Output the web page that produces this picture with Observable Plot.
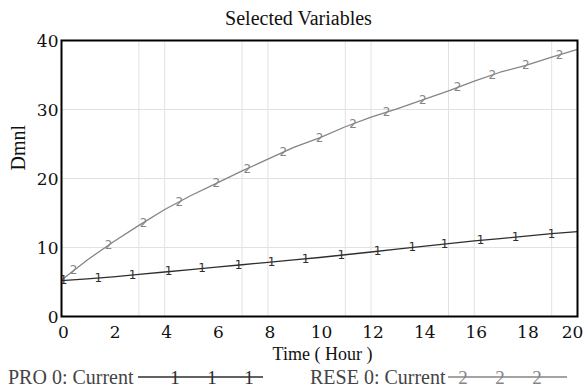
<!DOCTYPE html>
<html>
<head>
<meta charset="utf-8">
<script src="https://cdn.jsdelivr.net/npm/d3@7"></script>
<script src="https://cdn.jsdelivr.net/npm/@observablehq/plot@0.6"></script>
<style>
  body { margin: 0; background: #fff; width: 585px; height: 388px; overflow: hidden; }
  #title { height: 30px; font-family: "Liberation Serif", serif; font-size: 20px; line-height: 36px; text-align: center; padding-left: 12px; width: 573px; color: #111; white-space: nowrap; }
  #legend { position: relative; height: 22px; font-family: "Liberation Serif", serif; font-size: 20px; color: #444; }
  #legend span { position: absolute; top: 0; line-height: 22px; white-space: nowrap; }
  #legend svg { position: absolute; top: 0; overflow: visible; }
</style>
</head>
<body>
<div id="title"></div>
<div id="chart"></div>
<div id="legend"></div>
<script>
const chartTitle = "Selected Variables";
const xLabel = "Time ( Hour )";
const yLabel = "Dmnl";
const seriesNames = ["PRO 0: Current", "RESE 0: Current"];
const seriesMarks = ["1", "2"];
const seriesColors = ["#2e2e2e", "#858585"];

const timeHours = [0,1,2,3,4,5,6,7,8,9,10,11,12,13,14,15,16,17,18,19,20];
const proCurrent = [5.2,5.45,5.75,6.1,6.45,6.8,7.15,7.5,7.85,8.2,8.55,8.95,9.35,9.75,10.15,10.55,10.95,11.3,11.65,12.0,12.3];
const reseCurrent = [5.3,8.2,10.8,13.2,15.5,17.5,19.3,21.1,22.8,24.5,25.9,27.5,28.9,30.1,31.4,32.7,34.1,35.4,36.4,37.6,38.7];

const proMarkerTime = [0.08,1.43,2.75,4.15,5.45,6.86,8.14,9.46,10.85,12.25,13.6,14.85,16.24,17.6,18.99];
const proMarkerValue = [5.2,5.6,5.95,6.5,6.95,7.45,7.9,8.35,8.9,9.45,10.0,10.5,11.05,11.5,12.0];
const reseMarkerTime = [0.47,1.82,3.18,4.57,6.0,7.2,8.6,10.0,11.3,12.6,14.0,15.35,16.7,18.0,19.3];
const reseMarkerValue = [6.7,10.3,13.6,16.6,19.3,21.4,23.8,25.9,27.9,29.6,31.4,33.2,35.0,36.4,37.9];

const xTicks = [0,2,4,6,8,10,12,14,16,18];
const xLastTick = [20];
const yTicks = [0,10,20,30,40];
const xGrid = [3,4,7,8,11,12,15,16,19];
const yGrid = [10,20,30];

const pro = timeHours.map((t, i) => ({t, v: proCurrent[i]}));
const rese = timeHours.map((t, i) => ({t, v: reseCurrent[i]}));
const proM = proMarkerTime.map((t, i) => ({t, v: proMarkerValue[i]}));
const reseM = reseMarkerTime.map((t, i) => ({t, v: reseMarkerValue[i]}));

document.getElementById("title").textContent = chartTitle;

const tickFont = {fontSize: 17, fontFamily: "DejaVu Serif, serif"};

const plot = Plot.plot({
  width: 585,
  height: 336,
  marginTop: 10,
  marginBottom: 50,
  marginLeft: 61,
  marginRight: 8,
  style: {fontFamily: "DejaVu Serif, serif", fontSize: "17px", color: "#111", background: "white", overflow: "visible"},
  x: {domain: [0, 20]},
  y: {domain: [0, 40]},
  marks: [
    Plot.ruleX(xGrid, {stroke: "#e2e2e2", strokeWidth: 1}),
    Plot.ruleY(yGrid, {stroke: "#e2e2e2", strokeWidth: 1}),
    Plot.axisX({ticks: xTicks, tickSize: 0, tickPadding: 9, label: null, dx: 2, ...tickFont}),
    Plot.axisX({ticks: xLastTick, tickSize: 0, tickPadding: 9, label: null, dx: -5, ...tickFont}),
    Plot.axisY({ticks: yTicks, tickSize: 0, tickPadding: 3, label: null, dy: 1, ...tickFont}),
    Plot.line(pro, {x: "t", y: "v", stroke: seriesColors[0], strokeWidth: 1.3}),
    Plot.line(rese, {x: "t", y: "v", stroke: seriesColors[1], strokeWidth: 1.3}),
    Plot.text(proM, {x: "t", y: "v", text: () => seriesMarks[0], fill: seriesColors[0], fontSize: 12, fontFamily: "DejaVu Sans, sans-serif"}),
    Plot.text(reseM, {x: "t", y: "v", text: () => seriesMarks[1], fill: seriesColors[1], fontSize: 12, fontFamily: "DejaVu Sans, sans-serif"}),
    Plot.text([xLabel], {frameAnchor: "bottom", dx: 3, dy: 43, text: d => d, fontSize: 18, fontFamily: "Liberation Serif, serif", fill: "#111"}),
    Plot.text([yLabel], {frameAnchor: "left", dx: -43, dy: -8, rotate: -90, text: d => d, fontSize: 20, fontFamily: "Liberation Serif, serif", fill: "#111"}),
    Plot.frame({stroke: "#000", strokeWidth: 2})
  ]
});
document.getElementById("chart").appendChild(plot);

// legend
const legend = document.getElementById("legend");
const legendItems = [
  {left: 8, lineStart: 138, lineEnd: 263, marks: [175, 212, 249]},
  {left: 310, lineStart: 448, lineEnd: 567, marks: [463, 500, 537]}
];
legendItems.forEach((it, i) => {
  const s = document.createElement("span");
  s.style.left = it.left + "px";
  s.textContent = seriesNames[i];
  legend.appendChild(s);
  const svg = d3.create("svg").attr("width", 585).attr("height", 22).style("left", "0px");
  svg.append("line").attr("x1", it.lineStart).attr("x2", it.lineEnd).attr("y1", 11).attr("y2", 11)
    .attr("stroke", seriesColors[i]).attr("stroke-width", 1.3);
  it.marks.forEach(mx => svg.append("text").attr("x", mx).attr("y", 11).attr("dy", "0.36em")
    .attr("text-anchor", "middle").attr("fill", seriesColors[i])
    .attr("font-family", "Liberation Serif, serif").attr("font-size", 19).text(seriesMarks[i]));
  legend.appendChild(svg.node());
});
</script>
</body>
</html>
